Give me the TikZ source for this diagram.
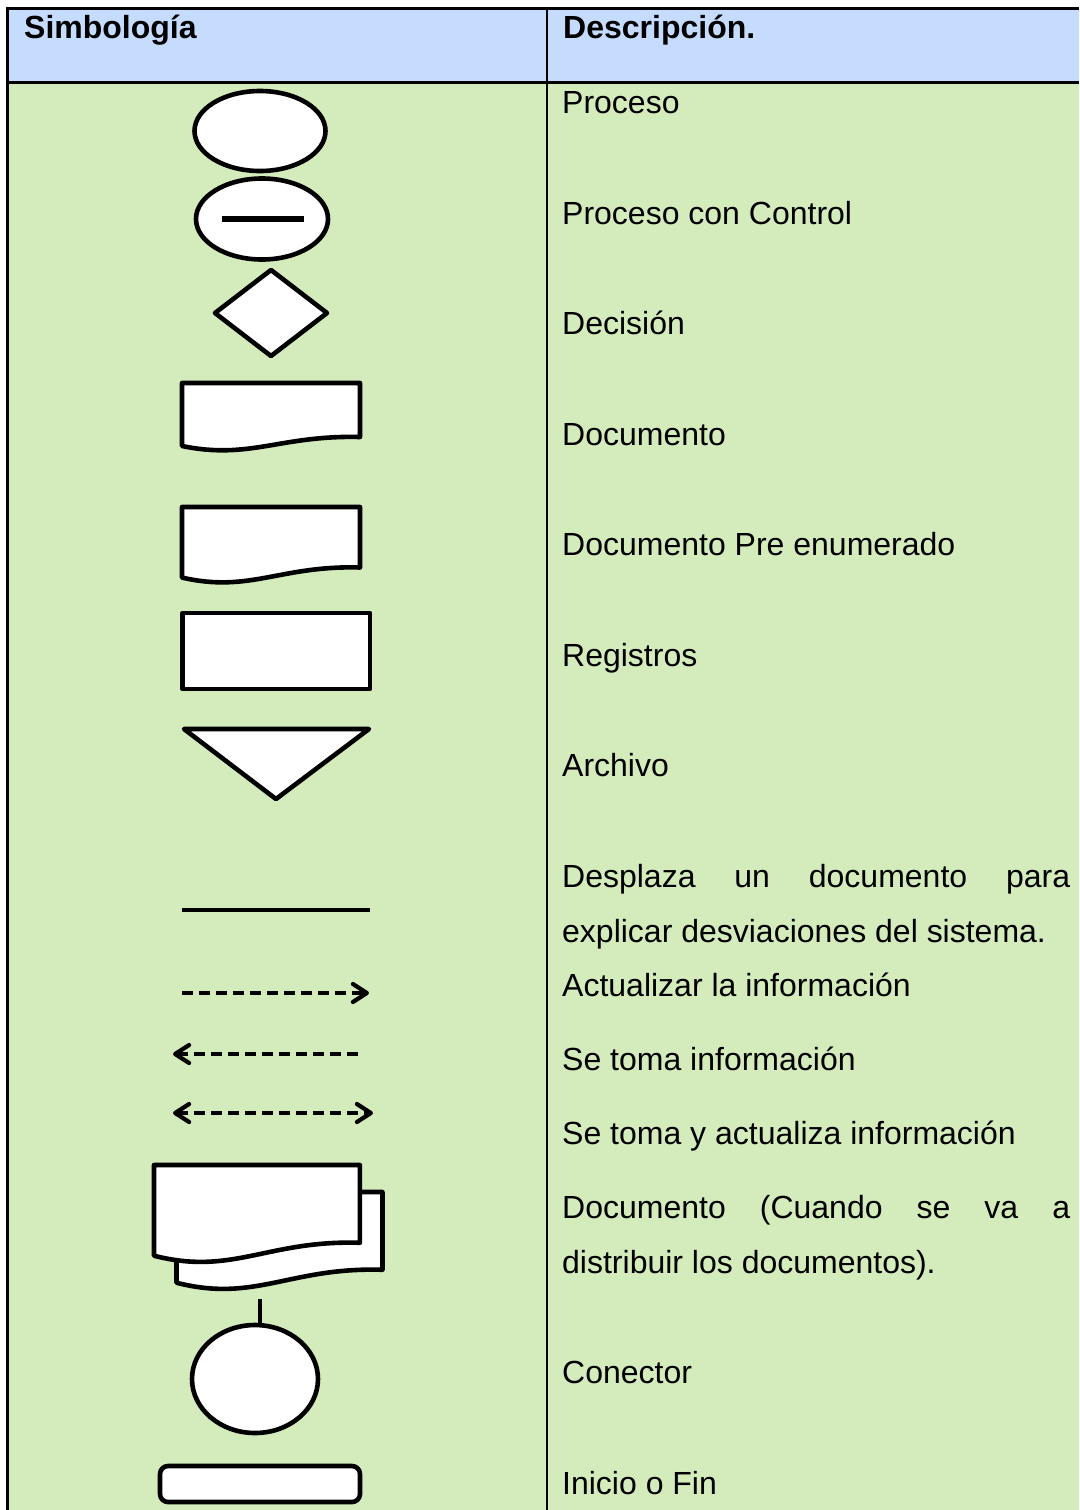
\documentclass[tikz,border=0pt]{standalone}
\usepackage{fontspec}
\setmainfont{Liberation Sans}
\usetikzlibrary{arrows.meta}
\definecolor{headblue}{RGB}{197,220,255}
\definecolor{bodygreen}{RGB}{212,235,188}
\newcommand{\desctext}{\fontsize{32}{55}\selectfont\hyphenpenalty=10000\tolerance=10000}
\tikzset{
  symbol/.style={draw=black, fill=white, line width=4.6pt, line join=round},
  desc/.style={anchor=base west, inner sep=0pt, font=\desctext},
  descpar/.style={desc, text width=508pt, align=justify},
  flow/.style={line width=4.2pt, dash pattern=on 11pt off 6pt},
  chev/.tip={Straight Barb[length=14pt,width=18pt,round]},
  docu/.pic={\path[symbol] (0,0) -- (178,0) -- (178,54) .. controls (98,52) and (68,77) .. (0,63) -- cycle;}
}
\begin{document}
\begin{tikzpicture}[x=1pt,y=-1pt]
                \useasboundingbox (0,0) rectangle (1079,1510);
                % Table background and rules
                \fill[headblue] (7,8) rectangle (1079,82);
                \fill[bodygreen] (7,82) rectangle (1079,1510);
                \draw[line width=3pt] (7.5,1510) -- (7.5,8.5) -- (1079,8.5);
                \draw[line width=3pt] (7,82) -- (1079,82);
                \draw[line width=2.5pt] (547,8) -- (547,1510);

                % Header
                \node[desc, font=\desctext\bfseries] (simb) at (24,38) {Simbología};
                \node[desc, font=\desctext\bfseries] (descr) at (563,38) {Descripción.};

                % Define the coordinates of the connectors
                \coordinate (ln1) at (182,910);
                \coordinate (ln2) at (370,910);
                \coordinate (ac1) at (182,993);
                \coordinate (ac2) at (369,993);
                \coordinate (tm1) at (173,1054);
                \coordinate (tm2) at (360,1054);
                \coordinate (ta1) at (173,1113);
                \coordinate (ta2) at (373,1113);
                \coordinate (cn1) at (260,1299);
                \coordinate (cn2) at (260,1326);

                % Draw the symbols
                \draw[symbol] (260,131) ellipse [x radius=65.5, y radius=40];
                \draw[symbol] (262,219) ellipse [x radius=66, y radius=40.5];
                \draw[line width=6pt] (222,219) -- (304,219);
                \draw[symbol] (215,313) -- (271,270) -- (327,313) -- (271,356) -- cycle;
                \pic at (182,383) {docu};
                \pic[yscale=1.12] at (182,507) {docu};
                \draw[symbol] (182.5,613) rectangle (370,689);
                \draw[symbol] (184,729) -- (369,729) -- (276,799) -- cycle;
                \draw[line width=4pt] (ln1) -- (ln2);
                \draw[flow, -chev] (ac1) -- (ac2);
                \draw[flow, chev-] (tm1) -- (tm2);
                \draw[flow, chev-chev] (ta1) -- (ta2);
                \pic[xscale=1.157, yscale=1.44] at (176.5,1192) {docu};
                \pic[xscale=1.157, yscale=1.44] at (154,1165) {docu};
                \draw[line width=3.5pt] (cn1) -- (cn2);
                \draw[symbol] (255,1379) ellipse [x radius=63, y radius=54];
                \draw[symbol, rounded corners=8pt] (160,1466) rectangle (360,1502);

                % Descriptions
                \foreach \y/\txt in {113/Proceso, 224/Proceso con Control, 334/Decisión,
                    445/Documento, 555/Documento Pre enumerado, 666/Registros, 776/Archivo,
                    996/Actualizar la información, 1070/Se toma información,
                    1144/Se toma y actualiza información, 1383/Conector, 1494/Inicio o Fin}
                    \node[desc] (d\y) at (562,\y) {\txt};
                \node[descpar] (d887) at (562,887) {Desplaza un documento para explicar desviaciones del sistema.};
                \node[descpar] (d1218) at (562,1218) {Documento (Cuando se va a distribuir los documentos).};
            \end{tikzpicture}
\end{document}
